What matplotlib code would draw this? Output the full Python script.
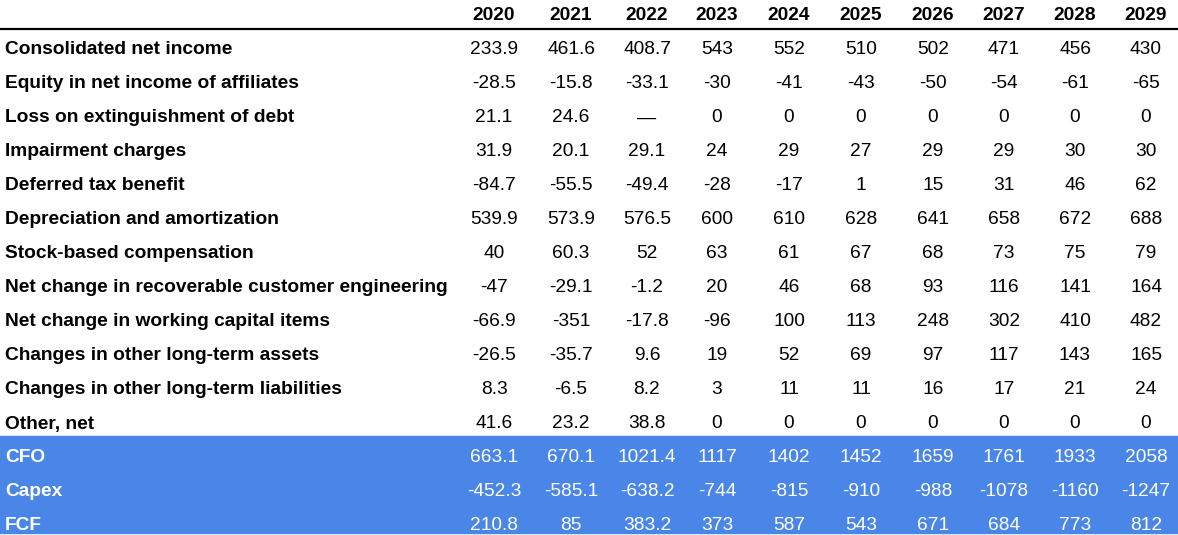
import matplotlib.pyplot as plt
from matplotlib.patches import Rectangle

years = ["2020", "2021", "2022", "2023", "2024", "2025", "2026", "2027", "2028", "2029"]

labels = [
    "Consolidated net income",
    "Equity in net income of affiliates",
    "Loss on extinguishment of debt",
    "Impairment charges",
    "Deferred tax benefit",
    "Depreciation and amortization",
    "Stock-based compensation",
    "Net change in recoverable customer engineering",
    "Net change in working capital items",
    "Changes in other long-term assets",
    "Changes in other long-term liabilities",
    "Other, net",
    "CFO",
    "Capex",
    "FCF",
]

values = [
    ["233.9", "461.6", "408.7", "543", "552", "510", "502", "471", "456", "430"],
    ["-28.5", "-15.8", "-33.1", "-30", "-41", "-43", "-50", "-54", "-61", "-65"],
    ["21.1", "24.6", "\u2014", "0", "0", "0", "0", "0", "0", "0"],
    ["31.9", "20.1", "29.1", "24", "29", "27", "29", "29", "30", "30"],
    ["-84.7", "-55.5", "-49.4", "-28", "-17", "1", "15", "31", "46", "62"],
    ["539.9", "573.9", "576.5", "600", "610", "628", "641", "658", "672", "688"],
    ["40", "60.3", "52", "63", "61", "67", "68", "73", "75", "79"],
    ["-47", "-29.1", "-1.2", "20", "46", "68", "93", "116", "141", "164"],
    ["-66.9", "-351", "-17.8", "-96", "100", "113", "248", "302", "410", "482"],
    ["-26.5", "-35.7", "9.6", "19", "52", "69", "97", "117", "143", "165"],
    ["8.3", "-6.5", "8.2", "3", "11", "11", "16", "17", "21", "24"],
    ["41.6", "23.2", "38.8", "0", "0", "0", "0", "0", "0", "0"],
    ["663.1", "670.1", "1021.4", "1117", "1402", "1452", "1659", "1761", "1933", "2058"],
    ["-452.3", "-585.1", "-638.2", "-744", "-815", "-910", "-988", "-1078", "-1160", "-1247"],
    ["210.8", "85", "383.2", "373", "587", "543", "671", "684", "773", "812"],
]

highlight = ["CFO", "Capex", "FCF"]

W, H = 1178, 535
plt.rcParams['font.family'] = ['Liberation Sans', 'DejaVu Sans']

fig = plt.figure(figsize=(W / 100, H / 100), dpi=100)
ax = fig.add_axes([0, 0, 1, 1])
ax.set_xlim(0, W)
ax.set_ylim(H, 0)
ax.axis('off')

col_x = [494, 571, 647, 717, 789, 861, 933, 1004, 1075, 1146]
row_y0 = 50
row_h = 34
fs = 13.8

# blue summary band
ax.add_patch(Rectangle((0, 436), W, 97, color="#4a86e8", zorder=0))

# header
for x, yr in zip(col_x, years):
    ax.text(x, 16, yr, ha='center', va='center', fontsize=fs, fontweight='bold')
ax.plot([0, W], [28.5, 28.5], color='black', lw=1.6)

for i, (lab, row) in enumerate(zip(labels, values)):
    y = row_y0 + i * row_h
    c = 'white' if lab in highlight else 'black'
    ax.text(5, y, lab, ha='left', va='center', fontsize=fs, fontweight='bold', color=c)
    for x, v in zip(col_x, row):
        ax.text(x, y, v, ha='center', va='center', fontsize=fs, color=c)

fig.savefig("out.png", dpi=100)
